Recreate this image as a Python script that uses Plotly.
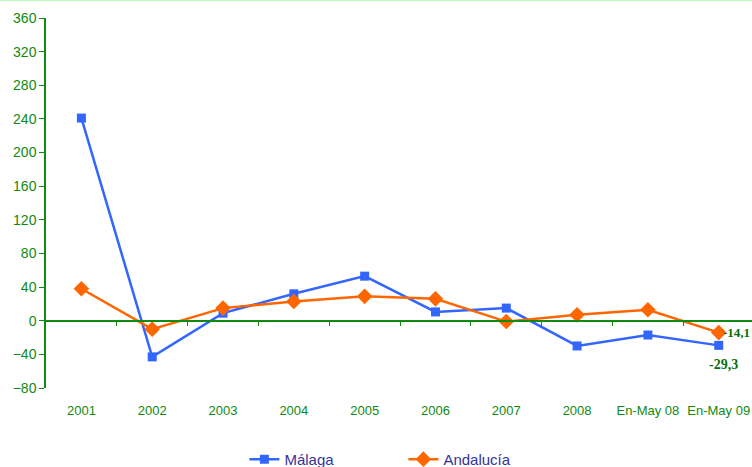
import plotly.graph_objects as go

# Periods on the horizontal axis
categories = ["2001", "2002", "2003", "2004", "2005", "2006", "2007", "2008",
              "En-May 08", "En-May 09"]

# Year-on-year variation (%)
malaga = [241, -43, 9, 32, 53, 10.5, 15, -30, -17, -29.3]
andalucia = [38, -10, 15, 23, 29, 26, -1, 7, 13, -14.1]

y_ticks = [-80, -40, 0, 40, 80, 120, 160, 200, 240, 280, 320, 360]

GREEN = "#108a10"
BLUE = "#3366ff"
ORANGE = "#ff6600"

xpos = list(range(len(categories)))
y_range = [-80, 360]
x_range = [-0.5, len(categories) - 0.53]

fig = go.Figure()
fig.add_trace(go.Scatter(
    x=xpos, y=malaga, name="Málaga", mode="lines+markers",
    line=dict(color=BLUE, width=2.5),
    marker=dict(symbol="square", size=9, color=BLUE),
))
fig.add_trace(go.Scatter(
    x=xpos, y=andalucia, name="Andalucía", mode="lines+markers",
    line=dict(color=ORANGE, width=2.5),
    marker=dict(symbol="diamond", size=12, color=ORANGE),
))

# Value labels for the last period
fig.add_annotation(x=xpos[-1], y=andalucia[-1],
                   text="<b>" + f"{andalucia[-1]:.1f}".replace(".", ",") + "</b>",
                   showarrow=False, xanchor="left", xshift=2, yshift=0,
                   font=dict(family="Liberation Serif", size=13, color="#0a6e0a"))
fig.add_annotation(x=xpos[-1], y=malaga[-1],
                   text="<b>" + f"{malaga[-1]:.1f}".replace(".", ",") + "</b>",
                   showarrow=False, xanchor="center", xshift=5, yshift=-19,
                   font=dict(family="Liberation Serif", size=14, color="#0a6e0a"))

zero_pos = (0 - y_range[0]) / (y_range[1] - y_range[0])

fig.update_layout(
    width=752, height=467,
    margin=dict(l=46, r=0, t=18, b=79, autoexpand=False),
    paper_bgcolor="white", plot_bgcolor="white",
    font=dict(family="Liberation Sans, Arial", color=GREEN),
    showlegend=True,
    legend=dict(orientation="h", x=0.281, y=-0.193, xanchor="left", yanchor="middle",
                entrywidth=114, entrywidthmode="pixels",
                font=dict(size=15, color="#333399"), bgcolor="rgba(0,0,0,0)"),
    xaxis=dict(range=x_range, tickvals=xpos, ticktext=categories,
               showgrid=False, zeroline=False, showline=False,
               ticks="outside", ticklen=10, tickcolor="rgba(0,0,0,0)",
               tickfont=dict(size=13, color=GREEN)),
    # Category boundary ticks along the zero line
    xaxis2=dict(overlaying="x", matches="x", anchor="free", position=zero_pos,
                range=x_range, tickvals=[i + 0.5 for i in xpos[:-1]],
                showticklabels=False, ticks="outside", ticklen=5,
                tickcolor=GREEN, showline=True, linecolor=GREEN, linewidth=1.5,
                showgrid=False, zeroline=False),
    yaxis=dict(range=y_range, tickvals=y_ticks, showgrid=False, zeroline=False,
               showline=True, linecolor=GREEN, linewidth=1.5,
               ticks="outside", ticklen=5, tickcolor=GREEN,
               tickfont=dict(size=14, color=GREEN)),
    shapes=[dict(type="line", xref="paper", yref="paper",
                 x0=-0.1, x1=1.1, y0=1 + 17.5 / 370, y1=1 + 17.5 / 370,
                 line=dict(color="#c4f5c4", width=1.5))],
)

# Invisible trace so the overlay axis is drawn
fig.add_trace(go.Scatter(x=[xpos[0]], y=[0], xaxis="x2", mode="markers",
                         marker=dict(opacity=0), showlegend=False, hoverinfo="skip"))

fig.write_html("out.html")
